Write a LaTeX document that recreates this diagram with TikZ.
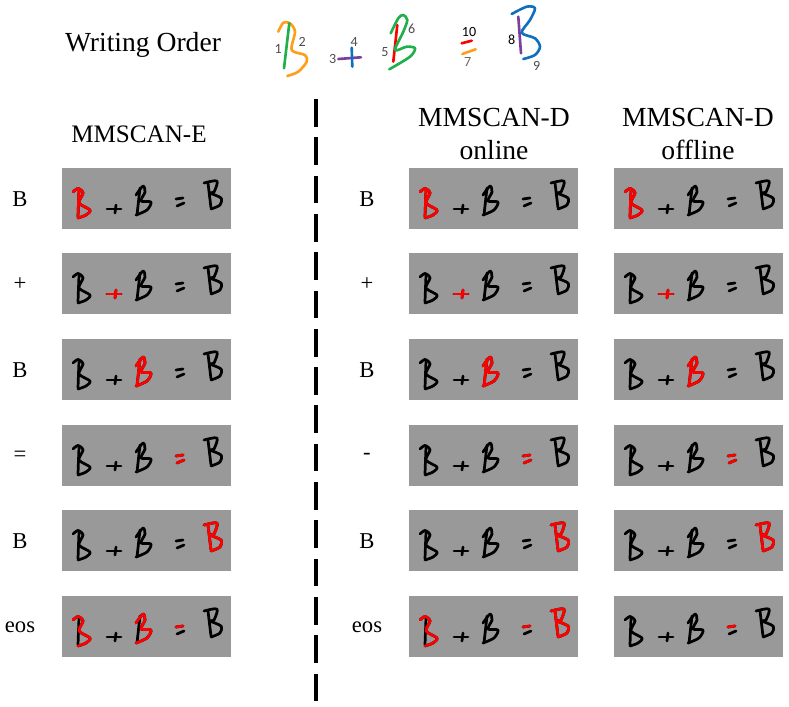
\documentclass[tikz,border=0pt]{standalone}
\usepackage{fontspec}
\setmainfont{Liberation Serif}
\newfontfamily\digitfont{Carlito}
\usetikzlibrary{positioning}
\definecolor{panelgray}{HTML}{999999}
\definecolor{inkgreen}{HTML}{1FAF4B}
\definecolor{inkorange}{HTML}{FF9E1B}
\definecolor{inkpurple}{HTML}{7B3FA0}
\definecolor{inkblue}{HTML}{0F70C0}
\definecolor{inkred}{HTML}{FF0000}
\tikzset{
    ink/.style={line width=1.55pt,line cap=round,line join=round},
    sample/.style={line width=1.5pt,line cap=round,line join=round},
    panel/.style={fill=panelgray,anchor=north west,inner sep=0pt,minimum width=3.38cm,minimum height=1.22cm},
    rowlabel/.style={font=\fontsize{12.9}{15}\selectfont},
    head/.style={font=\fontsize{15.7}{18}\selectfont},
    num/.style={font=\digitfont\fontsize{8}{9}\selectfont}
}
% the ten strokes of the equation, in panel pixels
\newcommand{\hwstrokeA}{plot[smooth,tension=0.5] coordinates {(17,22) (16.5,35) (16,49)}}
\newcommand{\hwstrokeB}{plot[smooth,tension=0.5] coordinates {(11,24) (16,20.5) (21,25) (17,35) (28,42) (24,47) (16,50)}}
\newcommand{\hwstrokeC}{plot[smooth,tension=0.5] coordinates {(45,41) (59,41)}}
\newcommand{\hwstrokeD}{plot[smooth,tension=0.5] coordinates {(54,37) (53,45)}}
\newcommand{\hwstrokeE}{plot[smooth,tension=0.5] coordinates {(78,20) (75,47)}}
\newcommand{\hwstrokeF}{plot[smooth,tension=0.5] coordinates {(74,27) (81,18) (83,24) (79,33) (89,34) (85,42) (74,47)}}
\newcommand{\hwstrokeG}{plot[smooth,tension=0.5] coordinates {(115,38) (122,35)}}
\newcommand{\hwstrokeH}{plot[smooth,tension=0.5] coordinates {(146,15) (149,40)}}
\newcommand{\hwstrokeI}{plot[smooth,tension=0.5] coordinates {(142,15) (155,13) (152,24) (148,25) (159,30) (158,37) (149,41)}}
\newcommand{\hwstrokeJ}{plot[smooth,tension=0.5] coordinates {(114,31) (121,30)}}
\newcommand{\hwglyphs}[2]{%
    \begin{scope}[shift={(#1.north west)}]
        \foreach \s in {A,B,C,D,E,F,G,H,I,J}
            \draw[ink,black] \csname hwstroke\s\endcsname;
        \foreach \s in #2
            \draw[ink,inkred] \csname hwstroke\s\endcsname;
    \end{scope}%
}
\begin{document}
\begin{tikzpicture}[x=0.02cm,y=-0.02cm]
    \useasboundingbox (0,0) rectangle (789,707);

    % Writing order
    \node[head] (order) at (143,45) {Writing Order};
    \draw[sample,inkorange] plot[smooth,tension=0.5] coordinates {(278.3,31.7) (283.3,22.7) (290,23.3) (295,31.7) (291.7,50) (305,55) (306.7,61.7) (298.3,71.7) (287.3,76)};
    \draw[sample,inkgreen] plot[smooth,tension=0.5] coordinates {(289.3,23.3) (284,68.3)};
    \draw[sample,inkpurple] plot[smooth,tension=0.5] coordinates {(338.3,59) (361,57.3)};
    \draw[sample,inkblue] plot[smooth,tension=0.5] coordinates {(351.7,47.7) (352.3,66.7)};
    \draw[sample,inkred] plot[smooth,tension=0.5] coordinates {(397.3,25) (393.3,61.7)};
    \draw[sample,inkgreen] plot[smooth,tension=0.5] coordinates {(390.7,33.3) (398.3,18.3) (403.3,15) (407.3,20) (403.3,31.7) (395,50) (406.7,46.7) (415,48.3) (410,56.7) (389.3,69.3)};
    \draw[sample,inkred] plot[smooth,tension=0.5] coordinates {(461.7,43.3) (471.7,40.7)};
    \draw[sample,inkorange] plot[smooth,tension=0.5] coordinates {(462.3,54) (475.7,49.3)};
    \draw[sample,inkpurple] plot[smooth,tension=0.5] coordinates {(518.3,16.7) (521,53.3)};
    \draw[sample,inkblue] plot[smooth,tension=0.5] coordinates {(511.7,14) (526.7,6.7) (535,8.3) (530,20) (521.7,32.7) (535,38.3) (540,46.7) (535,55) (523.3,59)};
    \foreach \n/\nx/\ny/\nc in {1/278.3/49/black!70,2/302.3/42.3/black!70,3/332.7/59.3/black!70,4/354.3/42.3/black!70,5/385/51.7/black!70,6/411.7/29.3/black!70,7/467.7/61.7/black!60,8/511.7/39.3/black,9/536.7/65.7/black!70,10/469/32.3/black}
        \node[num,text=\nc] (num\n) at (\nx,\ny) {\n};

    % Headers
    \node[head,font=\fontsize{14.3}{16}\selectfont] (headE) at (139,134) {MMSCAN-E};
    \node[head,align=center] (headD) at (494,134) {MMSCAN-D\\[1pt]online};
    \node[head,align=center] (headO) at (698,134) {MMSCAN-D\\[1pt]offline};

    % Divider
    \coordinate (divtop) at (315.7,99);
    \coordinate (divbot) at (315.7,703);
    \draw[line width=2.4pt,dash pattern=on 15.8pt off 6pt] (divtop) -- (divbot);

    % Rows
    \foreach \row/\ptop/\labE/\labD/\redE/\redD/\redO in {
        1/168/B/B/{A,B}/{A,B}/{A,B},
        2/253/+/+/{C,D}/{C,D}/{C,D},
        3/339/B/B/{E,F}/{E,F}/{E,F},
        4/425/=/-/{G,J}/{G,J}/{G,J},
        5/510/B/B/{H,I}/{H,I}/{H,I},
        6/596/eos/eos/{B,F,J}/{B,J,H,I}/{J}}{
        \node[panel] (panelE\row) at (62,\ptop) {};
        \node[panel] (panelD\row) at (409,\ptop) {};
        \node[panel] (panelO\row) at (614,\ptop) {};
        \node[rowlabel] (labE\row) at (20,\ptop+31) {\labE};
        \node[rowlabel] (labD\row) at (367,\ptop+31) {\labD};
        \hwglyphs{panelE\row}{\redE}
        \hwglyphs{panelD\row}{\redD}
        \hwglyphs{panelO\row}{\redO}
    }
\end{tikzpicture}
\end{document}
